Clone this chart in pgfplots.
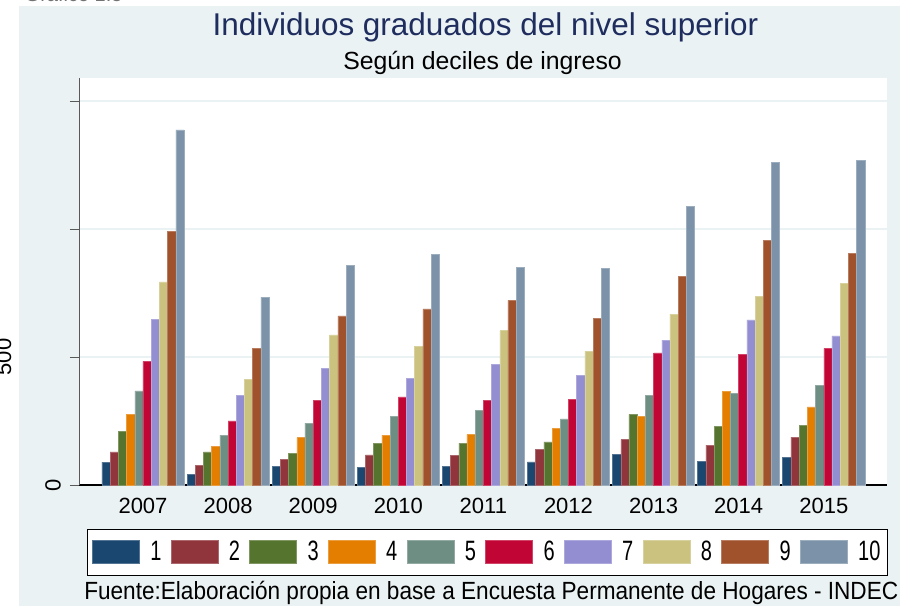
\documentclass[border=0pt]{standalone}
\usepackage{fontspec}
\setmainfont{Liberation Sans}
\usepackage{pgfplots}
\usepackage{pgfplotstable}
\pgfplotsset{compat=1.18}
\definecolor{bgc}{HTML}{EAF2F3}
\definecolor{titlec}{HTML}{1E2D5E}
\definecolor{c1}{HTML}{1A476F}
\definecolor{c2}{HTML}{90353B}
\definecolor{c3}{HTML}{55752F}
\definecolor{c4}{HTML}{E37E00}
\definecolor{c5}{HTML}{6E8E84}
\definecolor{c6}{HTML}{C10534}
\definecolor{c7}{HTML}{938DD2}
\definecolor{c8}{HTML}{CAC27E}
\definecolor{c9}{HTML}{A0522D}
\definecolor{c10}{HTML}{7B92A8}

\pgfplotstableread{
x d1 d2 d3 d4 d5 d6 d7 d8 d9 d10
0 89 129 208 277 368 483 647 793 991 1387
1 42 77 129 151 195 250 350 414 534 734
2 73 100 124 185 242 331 456 586 661 858
3 70 118 163 195 267 344 415 542 688 901
4 74 115 164 198 290 331 470 603 721 850
5 90 138 168 221 258 335 427 523 651 845
6 121 177 276 267 349 516 566 667 814 1087
7 91 156 228 367 358 510 645 737 954 1260
8 109 187 234 305 388 534 582 788 906 1268
}\datatable

\pgfplotsset{
  leg/.style={legend image code/.code={\fill[##1] (0pt,-8.6pt) rectangle (35.25pt,8.6pt);}},
  barst/.style={fill=#1, draw=#1!75!white, line width=0.4pt, leg},
}
\newcommand\lt[1]{\scalebox{1}[1.4]{#1}}

\begin{document}
\begin{tikzpicture}
\useasboundingbox (0,0) rectangle (675pt,454.5pt);
\clip (0,0) rectangle (675pt,454.5pt);
\fill[bgc] (14.25pt,0) rectangle (675pt,450pt);
\node[black!55, anchor=base west, font=\fontsize{15}{18}\selectfont] at (15pt,453pt) {Gráfico 1.5};
\begin{axis}[
  at={(59.25pt,90.75pt)}, anchor=south west,
  scale only axis, width=606pt, height=305.25pt,
  xmin=-0.752, xmax=8.743, ymin=0, ymax=1589.8,
  axis background/.style={fill=white},
  axis x line*=bottom, axis y line*=left,
  x axis line style={black, line width=0.8pt, -},
  y axis line style={black!65, line width=0.6pt, -},
  xtick={0,1,2,3,4,5,6,7,8},
  xticklabels={2007,2008,2009,2010,2011,2012,2013,2014,2015},
  x tick style={draw=none},
  xticklabel style={font=\fontsize{16.5}{18}\selectfont, inner sep=0pt, anchor=north, yshift=-3pt},
  /pgf/number format/assume math mode=true,
  ytick={0,500,1000,1500}, yticklabels={{},{},{},{}},
  y tick style={black!65, line width=0.6pt},
  tick align=outside, major tick length=6.75pt,
  ymajorgrids, grid style={color=bgc, line width=1.2pt},
  clip=false,
  ybar, bar width=0.0964,
  legend columns=10,
  legend style={
    at={(0.0099,-0.1081)}, anchor=north west,
    draw=black, line width=0.6pt, fill=white,
    inner xsep=3.5pt, inner ysep=7pt,
    font=\fontsize{15}{18}\selectfont,
    /tikz/every odd column/.append style={column sep=6pt},
    /tikz/every even column/.append style={column sep=5pt},
  },
  legend cell align=left,
]
\addplot[barst=c1, bar shift=-0.4338] table[x=x,y=d1]{\datatable};
\addplot[barst=c2, bar shift=-0.3374] table[x=x,y=d2]{\datatable};
\addplot[barst=c3, bar shift=-0.2410] table[x=x,y=d3]{\datatable};
\addplot[barst=c4, bar shift=-0.1446] table[x=x,y=d4]{\datatable};
\addplot[barst=c5, bar shift=-0.0482] table[x=x,y=d5]{\datatable};
\addplot[barst=c6, bar shift=0.0482] table[x=x,y=d6]{\datatable};
\addplot[barst=c7, bar shift=0.1446] table[x=x,y=d7]{\datatable};
\addplot[barst=c8, bar shift=0.2410] table[x=x,y=d8]{\datatable};
\addplot[barst=c9, bar shift=0.3374] table[x=x,y=d9]{\datatable};
\addplot[barst=c10, bar shift=0.4338] table[x=x,y=d10]{\datatable};
\legend{\lt{1},\lt{2},\lt{3},\lt{4},\lt{5},\lt{6},\lt{7},\lt{8},\lt{9},\lt{10}}
\node[rotate=90, font=\fontsize{16.5}{18}\selectfont, inner sep=0pt] at (rel axis cs:-0.0322,0) {0};
\node[rotate=90, font=\fontsize{16.5}{18}\selectfont, inner sep=0pt] at (axis cs:-1.64,500) {500};
\end{axis}
\node[anchor=base, font=\fontsize{23.6}{28}\selectfont, text=titlec] at (364.1pt,427.5pt) {Individuos graduados del nivel superior};
\node[anchor=base, font=\fontsize{18.6}{22}\selectfont] at (361.9pt,402pt) {Según deciles de ingreso};
\node[anchor=base west, font=\fontsize{16.95}{20}\selectfont, inner sep=0pt] at (63pt,4.5pt) {\scalebox{1}[1.1]{Fuente:Elaboración propia en base a Encuesta Permanente de Hogares - INDEC}};
\end{tikzpicture}
\end{document}
